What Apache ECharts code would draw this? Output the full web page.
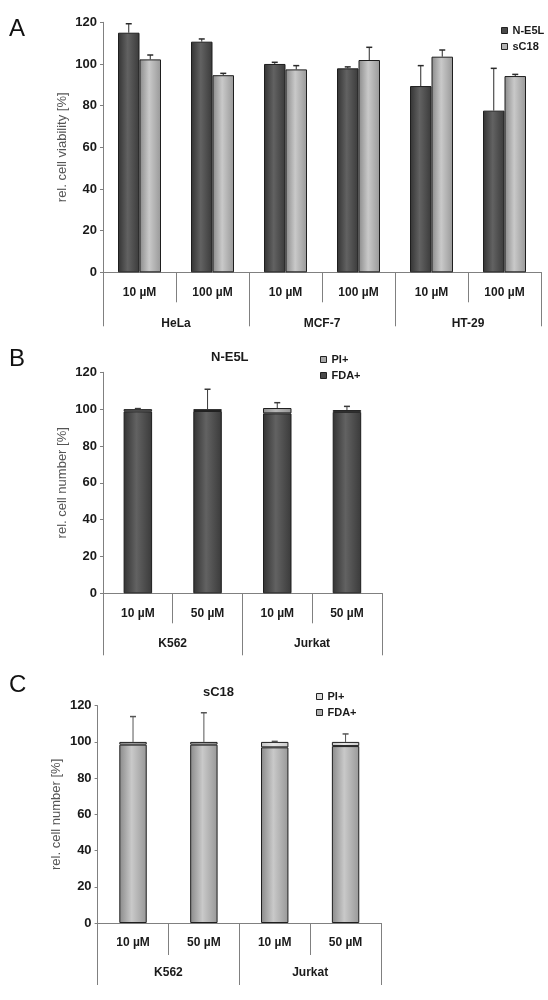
<!DOCTYPE html>
<html><head><meta charset="utf-8">
<script src="https://cdn.jsdelivr.net/npm/echarts@6/dist/echarts.min.js"></script>
<style>html,body{margin:0;padding:0;background:#fff}#c{width:548px;height:1000px}</style>
</head><body><div id="c"></div>
<script>
// ---- data ----
const aGroups = ['HeLa', 'MCF-7', 'HT-29'];
const aConc = ['10 µM', '100 µM', '10 µM', '100 µM', '10 µM', '100 µM'];
const nE5L = [115, 110.7, 100, 97.9, 89.4, 77.6];
const nE5LErr = [4.3, 1.3, 0.8, 0.7, 9.8, 20.3];
const sC18 = [102.2, 94.6, 97.4, 101.9, 103.5, 94.2];
const sC18Err = [2.1, 0.9, 1.8, 6.1, 3.2, 0.8];

const bcGroups = ['K562', 'Jurkat'];
const bcConc = ['10 µM', '50 µM', '10 µM', '50 µM'];
const bFDA = [98.8, 99.0, 97.7, 98.5];
const bPI = [1.2, 1.0, 2.9, 1.0];
const bErr = [0.3, 10.8, 2.9, 2.0];
const cFDA = [98.5, 98.5, 97.0, 97.7];
const cPI = [1.5, 1.5, 3.0, 2.3];
const cErr = [14.0, 16.1, 0.3, 4.4];
const yTicks = [0, 120, 20];

const FONT = 'Liberation Sans, Arial, sans-serif';
const chart = echarts.init(document.getElementById('c'));
const G = echarts.graphic.LinearGradient;
const dark = new G(0, 0, 1, 0, [{offset: 0, color: '#333333'}, {offset: 0.45, color: '#626262'}, {offset: 1, color: '#3a3a3a'}]);
const light = new G(0, 0, 1, 0, [{offset: 0, color: '#8a8a8a'}, {offset: 0.45, color: '#c9c9c9'}, {offset: 1, color: '#989898'}]);
const bPIc = new G(0, 0, 1, 0, [{offset: 0, color: '#8e8e8e'}, {offset: 0.45, color: '#b8b8b8'}, {offset: 1, color: '#949494'}]);
const cPIc = new G(0, 0, 1, 0, [{offset: 0, color: '#c4c4c4'}, {offset: 0.45, color: '#e6e6e6'}, {offset: 1, color: '#cacaca'}]);

const grids = [
  {left: 103, width: 438, top: 22.3, height: 250},
  {left: 103, width: 278.8, top: 372.3, height: 221},
  {left: 97.6, width: 283.4, top: 705.7, height: 217.3}
];
const subTick = [30, 30, 32], grpTick = [54, 62, 62], grpMargin = [45, 44, 44];
const nameGaps = [34, 34, 35];
const yNames = ['rel. cell viability [%]', 'rel. cell number [%]', 'rel. cell number [%]'];
const concs = [aConc, bcConc, bcConc], groups = [aGroups, bcGroups, bcGroups];

const xAxis = [], yAxis = [];
for (let g = 0; g < 3; g++) {
  xAxis.push({
    type: 'category', gridIndex: g, data: concs[g], position: 'bottom', boundaryGap: true,
    axisLine: {show: true, lineStyle: {color: '#808080', width: 1}},
    axisTick: {show: true, interval: 0, alignWithLabel: false, length: subTick[g], lineStyle: {color: '#808080', width: 1}},
    axisLabel: {interval: 0, margin: 14, fontSize: 12, fontWeight: 'bold', color: '#1a1a1a', fontFamily: FONT}
  });
  xAxis.push({
    type: 'category', gridIndex: g, data: groups[g], position: 'bottom', boundaryGap: true,
    axisLine: {show: true, lineStyle: {color: '#808080', width: 1}},
    axisTick: {show: true, interval: 0, alignWithLabel: false, length: grpTick[g], lineStyle: {color: '#808080', width: 1}},
    axisLabel: {interval: 0, margin: grpMargin[g], fontSize: 12, fontWeight: 'bold', color: '#1a1a1a', fontFamily: FONT}
  });
  yAxis.push({
    type: 'value', gridIndex: g, min: yTicks[0], max: yTicks[1], interval: yTicks[2],
    splitLine: {show: false},
    axisLine: {show: true, lineStyle: {color: '#808080'}},
    axisTick: {show: true, length: 3, lineStyle: {color: '#808080'}},
    axisLabel: {margin: 6, fontSize: 13, fontWeight: 'bold', color: '#1a1a1a', fontFamily: FONT},
    name: yNames[g], nameLocation: 'middle', nameGap: nameGaps[g], nameRotate: 90, nameMoveOverlap: false,
    nameTextStyle: {fontSize: 13, color: '#555', fontFamily: FONT}
  });
}

function errRender(offset, color) {
  return function (params, api) {
    const x = api.value(0), lo = api.value(1), hi = api.value(2);
    const p0 = api.coord([x, lo]), p1 = api.coord([x, hi]);
    const cx = p0[0] + offset;
    return {type: 'group', children: [
      {type: 'line', shape: {x1: cx, y1: p0[1], x2: cx, y2: p1[1]}, style: {stroke: color, lineWidth: 1}},
      {type: 'line', shape: {x1: cx - 3, y1: p1[1], x2: cx + 3, y2: p1[1]}, style: {stroke: color, lineWidth: 1.5}}
    ]};
  };
}
const bstyle = (c) => ({color: c, borderColor: '#1e1e1e', borderWidth: 1});
const errData = (vals, errs) => vals.map((v, i) => [i, v, v + errs[i]]);
const sum = (a, b) => a.map((v, i) => v + b[i]);

const series = [
  {name: 'N-E5L', type: 'bar', xAxisIndex: 0, yAxisIndex: 0, data: nE5L, barWidth: 21.5, barGap: '0%', itemStyle: bstyle(dark)},
  {name: 'sC18', type: 'bar', xAxisIndex: 0, yAxisIndex: 0, data: sC18, barWidth: 21.5, barGap: '0%', itemStyle: bstyle(light)},
  {type: 'custom', xAxisIndex: 0, yAxisIndex: 0, renderItem: errRender(-10.75, '#2a2a2a'), data: errData(nE5L, nE5LErr), encode: {x: 0, y: [1, 2]}, z: 5},
  {type: 'custom', xAxisIndex: 0, yAxisIndex: 0, renderItem: errRender(10.75, '#2a2a2a'), data: errData(sC18, sC18Err), encode: {x: 0, y: [1, 2]}, z: 5},

  {name: 'FDA+', type: 'bar', stack: 'b', xAxisIndex: 2, yAxisIndex: 1, data: bFDA, barWidth: 28.5, itemStyle: bstyle(dark)},
  {name: 'PI+', type: 'bar', stack: 'b', xAxisIndex: 2, yAxisIndex: 1, data: bPI, barWidth: 28.5, itemStyle: bstyle(bPIc)},
  {type: 'custom', xAxisIndex: 2, yAxisIndex: 1, renderItem: errRender(0, '#3a3a3a'), data: errData(sum(bFDA, bPI), bErr), encode: {x: 0, y: [1, 2]}, z: 5},

  {name: 'FDA+', type: 'bar', stack: 'c', xAxisIndex: 4, yAxisIndex: 2, data: cFDA, barWidth: 27.4, itemStyle: bstyle(light)},
  {name: 'PI+', type: 'bar', stack: 'c', xAxisIndex: 4, yAxisIndex: 2, data: cPI, barWidth: 27.4, itemStyle: bstyle(cPIc)},
  {type: 'custom', xAxisIndex: 4, yAxisIndex: 2, renderItem: errRender(0, '#555'), data: errData(sum(cFDA, cPI), cErr), encode: {x: 0, y: [1, 2]}, z: 5}
];

const legTxt = {fontSize: 11, fontWeight: 'bold', color: '#1a1a1a', fontFamily: FONT};
const legBase = {orient: 'vertical', icon: 'rect', itemWidth: 6, itemHeight: 6, itemGap: 5, padding: 0, textStyle: legTxt, selectedMode: false};
const legend = [
  Object.assign({}, legBase, {left: 501, top: 25, data: [
    {name: 'N-E5L', itemStyle: {color: '#4a4a4a', borderColor: '#222', borderWidth: 1}},
    {name: 'sC18', itemStyle: {color: '#b4b4b4', borderColor: '#222', borderWidth: 1}}]}),
  Object.assign({}, legBase, {left: 320, top: 354, data: [
    {name: 'PI+', itemStyle: {color: '#a8a8a8', borderColor: '#222', borderWidth: 1}},
    {name: 'FDA+', itemStyle: {color: '#4a4a4a', borderColor: '#222', borderWidth: 1}}]}),
  Object.assign({}, legBase, {left: 316, top: 691, data: [
    {name: 'PI+', itemStyle: {color: '#dcdcdc', borderColor: '#222', borderWidth: 1}},
    {name: 'FDA+', itemStyle: {color: '#b0b0b0', borderColor: '#222', borderWidth: 1}}]})
];

const letter = {fontSize: 24, fontWeight: 'normal', color: '#111', fontFamily: FONT};
const ttl = {fontSize: 13, fontWeight: 'bold', color: '#1a1a1a', fontFamily: FONT};
const title = [
  {text: 'A', left: 9, top: 17, padding: 0, textStyle: letter},
  {text: 'B', left: 9, top: 347, padding: 0, textStyle: letter},
  {text: 'C', left: 9, top: 673, padding: 0, textStyle: letter},
  {text: 'N-E5L', left: 211, top: 351, padding: 0, textStyle: ttl},
  {text: 'sC18', left: 203, top: 686, padding: 0, textStyle: ttl}
];

chart.setOption({animation: false, grid: grids, xAxis, yAxis, series, legend, title});
</script></body></html>
